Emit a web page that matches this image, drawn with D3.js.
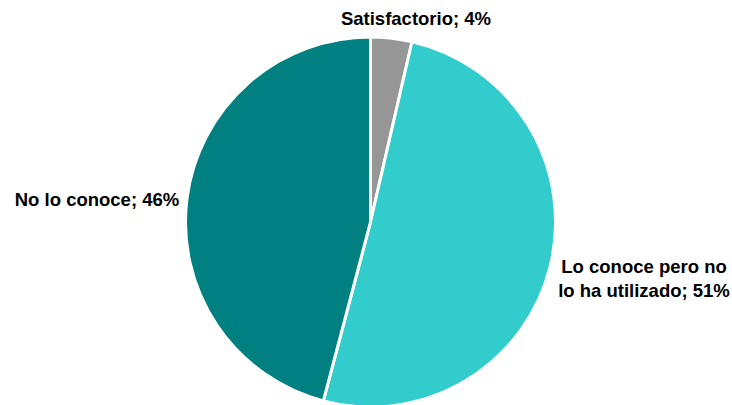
<!DOCTYPE html>
<html>
  <head>
    <meta charset="utf-8">
    <script src="https://d3js.org/d3.v7.min.js"></script>
    <style>
      body { margin: 0; background: #fff; }
      .label { font-family: "Liberation Sans", Arial, sans-serif; font-weight: bold; font-size: 18.5px; fill: #000; }
    </style>
  </head>
  <body>
    <script>

      // data
      var categories = ["Satisfactorio", "Lo conoce pero no lo ha utilizado", "No lo conoce"]
      var values = [3.6, 50.5, 45.9]
      var pct_labels = ["4%", "51%", "46%"]
      var colors = ["#969696", "#33CCCC", "#008080"]

      var w = 732
      var h = 405
      var cx = 370.5
      var cy = 222
      var r = 185

      var svg = d3.select("body")
        .append("svg")
        .attr("width", w)
        .attr("height", h)

      var pie = d3.pie()
        .sort(null)
        .value(function(d) { return d })

      var arc = d3.arc()
        .innerRadius(0)
        .outerRadius(r)

      var g = svg.append("g")
        .attr("transform", "translate(" + cx + "," + cy + ")")

      // slices
      g.selectAll("path")
        .data(pie(values))
        .enter()
        .append("path")
        .attr("d", arc)
        .attr("fill", function(d, i) { return colors[i] })
        .attr("stroke", "#fff")
        .attr("stroke-width", 3)
        .attr("stroke-linejoin", "miter")

      // labels: position per slice, text split in lines
      var label_pos = [
        { x: 416, y: 25, lines: [categories[0] + "; " + pct_labels[0]] },
        { x: 644, y: 273, lines: ["Lo conoce pero no", "lo ha utilizado; " + pct_labels[1]] },
        { x: 97, y: 206, lines: [categories[2] + "; " + pct_labels[2]] }
      ]

      label_pos.forEach(function(l) {
        var t = svg.append("text")
          .attr("class", "label")
          .attr("text-anchor", "middle")
          .attr("x", l.x)
          .attr("y", l.y)
        l.lines.forEach(function(line, j) {
          t.append("tspan")
            .attr("x", l.x)
            .attr("dy", j == 0 ? 0 : 24)
            .text(line)
        })
      })

    </script>
  </body>
</html>
